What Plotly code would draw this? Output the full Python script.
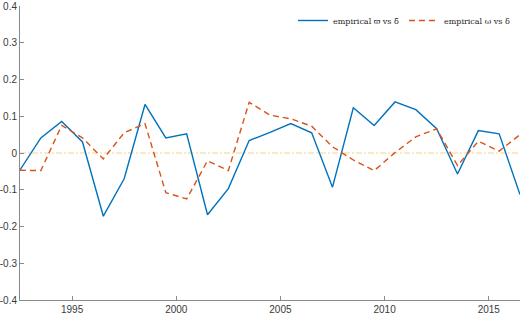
import plotly.graph_objects as go

years = [1992.5 + i for i in range(25)]
varpi_emp = [-0.046, 0.041, 0.086, 0.030, -0.172, -0.070, 0.132, 0.041, 0.052, -0.168,
             -0.097, 0.034, 0.056, 0.080, 0.055, -0.093, 0.123, 0.075, 0.139, 0.118,
             0.066, -0.057, 0.061, 0.052, -0.113]
omega_emp = [-0.047, -0.048, 0.075, 0.041, -0.016, 0.055, 0.080, -0.108, -0.125, -0.021,
             -0.048, 0.138, 0.103, 0.093, 0.073, 0.017, -0.019, -0.048, 0.001, 0.044,
             0.066, -0.034, 0.032, 0.005, 0.050]
zero_line = [0.0] * len(years)

x_ticks = [1995, 2000, 2005, 2010, 2015]
y_ticks = [0.4, 0.3, 0.2, 0.1, 0, -0.1, -0.2, -0.3, -0.4]
y_ticktext = ["0.4", "0.3", "0.2", "0.1", "0", "-0.1", "-0.2", "-0.3", "-0.4"]

fig = go.Figure()
fig.add_trace(go.Scatter(x=years, y=zero_line, mode="lines", showlegend=False,
                         line=dict(color="rgba(237,177,32,0.55)", width=1, dash="6px,2px,2px,2px"),
                         hoverinfo="skip"))
fig.add_trace(go.Scatter(x=years, y=varpi_emp, mode="lines", name="empirical ϖ vs δ\u0304",
                         line=dict(color="#0072BD", width=1.4)))
fig.add_trace(go.Scatter(x=years, y=omega_emp, mode="lines", name="empirical ω vs δ",
                         line=dict(color="#D95319", width=1.4, dash="6px,4px")))

axis_col = "#8a8a8a"
fig.update_layout(
    width=520, height=315,
    margin=dict(l=19, r=0, t=3, b=15),
    paper_bgcolor="white", plot_bgcolor="white",
    font=dict(family="Liberation Sans, Arial, sans-serif", size=10, color="#3a3a3a"),
    legend=dict(orientation="h", x=0.99, xanchor="right", y=1.0, yanchor="top",
                font=dict(family="DejaVu Serif, serif", size=8, color="#222"),
                bgcolor="rgba(255,255,255,0)", itemwidth=30, tracegroupgap=0),
    xaxis=dict(range=[1992.5, 2016.5], tickvals=x_ticks, showgrid=False, zeroline=False,
               showline=True, linecolor=axis_col, linewidth=1, ticks="inside", ticklen=4,
               tickcolor=axis_col, tickfont=dict(size=10), ticklabeloverflow="allow"),
    yaxis=dict(range=[-0.4, 0.4], tickvals=y_ticks, ticktext=y_ticktext, showgrid=False,
               zeroline=False, showline=True, linecolor=axis_col, linewidth=1,
               ticks="inside", ticklen=4, tickcolor=axis_col, tickfont=dict(size=10),
               ticklabeloverflow="allow"),
)

fig.write_html("out.html")
